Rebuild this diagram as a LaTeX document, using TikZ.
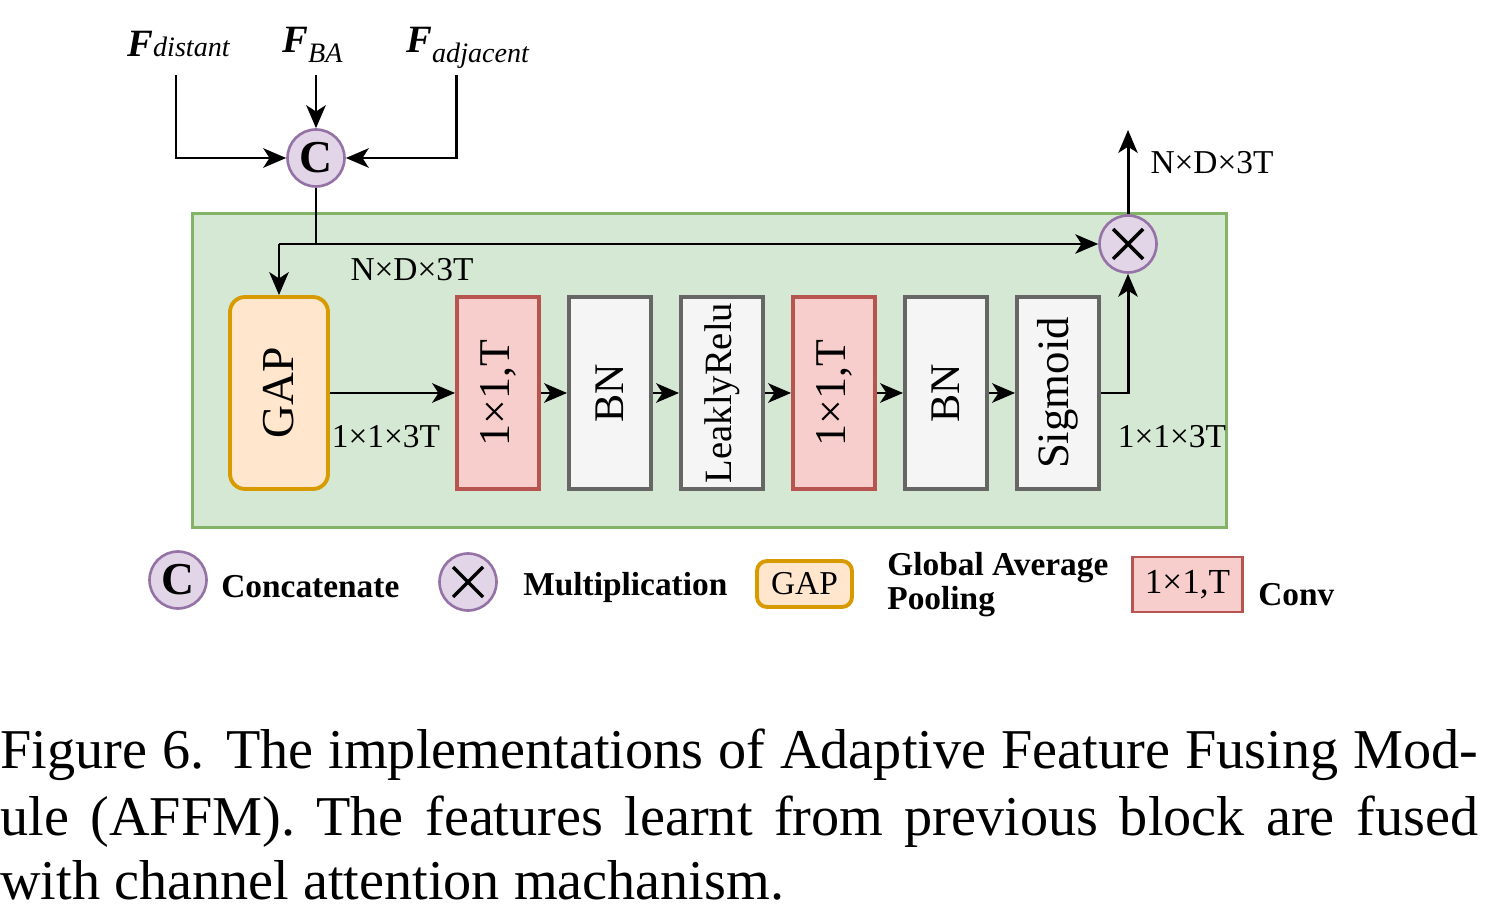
\documentclass[tikz,border=0pt]{standalone}
\usepackage{fontspec}
\setmainfont{Liberation Serif}
\usetikzlibrary{arrows.meta}
\definecolor{opfill}{HTML}{E1D5E7}
\definecolor{opdraw}{HTML}{9673A6}
\definecolor{gfill}{HTML}{D5E8D4}
\definecolor{gdraw}{HTML}{82B366}
\definecolor{ofill}{HTML}{FFE6CC}
\definecolor{odraw}{HTML}{D79B00}
\definecolor{rfill}{HTML}{F8CECC}
\definecolor{rdraw}{HTML}{B85450}
\definecolor{kfill}{HTML}{F5F5F5}
\definecolor{kdraw}{HTML}{666666}
\begin{document}
\begin{tikzpicture}[x=0.02cm,y=-0.02cm,
  fs/.style={font=\fontsize{#1}{#1}\selectfont},
  ln/.style={line width=1.7pt},
  arr/.style={line width=1.7pt,-{Stealth[length=13pt,width=11pt,inset=3.5pt]}},
  blk/.style={draw,line width=2.2pt,minimum width=1.64cm,minimum height=3.84cm,inner sep=0pt},
  convbox/.style={blk,fill=rfill,draw=rdraw},
  graybox/.style={blk,fill=kfill,draw=kdraw},
  gapbox/.style={blk,fill=ofill,draw=odraw,rounded corners=0.3cm,minimum width=1.96cm},
  op/.style={circle,draw=opdraw,fill=opfill,line width=1.5pt,minimum size=1.14cm,inner sep=0pt},
  mul/.style={op,path picture={
     \draw[black,line width=2pt]([shift={(-15,-15)}]path picture bounding box.center)--([shift={(15,15)}]path picture bounding box.center);
     \draw[black,line width=2pt]([shift={(-15,15)}]path picture bounding box.center)--([shift={(15,-15)}]path picture bounding box.center);}},
  lbl/.style={inner sep=0pt,fs=19},
  leg/.style={inner sep=0pt,font=\bfseries\fontsize{19}{22}\selectfont,anchor=base west},
  captxt/.style={inner sep=0pt,anchor=base west,fs=32}
]
\useasboundingbox (0,0) rectangle (1486,911);

% panel
\node[draw=gdraw,fill=gfill,line width=1.5pt,minimum width=20.69cm,minimum height=6.29cm,inner sep=0pt] (panel) at (709.5,370.5) {};

% inputs
\node[anchor=base west,inner sep=0pt] (fd) at (127,57)
  {\fontsize{22}{22}\selectfont\bfseries\itshape F\fontsize{16}{16}\selectfont\mdseries distant};
\node[anchor=base west,inner sep=0pt] (fba) at (282,53)
  {\fontsize{22}{22}\selectfont\bfseries\itshape F\raisebox{-0.2cm}{\fontsize{16}{16}\selectfont\mdseries BA}};
\node[anchor=base west,inner sep=0pt] (fadj) at (406,53)
  {\fontsize{22}{22}\selectfont\bfseries\itshape F\raisebox{-0.2cm}{\fontsize{16}{16}\selectfont\mdseries adjacent}};
\coordinate (d0) at (176,75);
\coordinate (b0) at (316,75);
\coordinate (a0) at (456,75);

\node[op,fs=26] (c) at (316,158) {\bfseries C};
\draw[arr] (d0) |- (c.west);
\draw[arr] (b0) -- (c.north);
\draw[arr] (a0) |- (c.east);

% blocks
\node[gapbox] (gap) at (279,393) {\rotatebox{90}{\fontsize{26}{26}\selectfont GAP}};
\node[convbox] (c1) at (498,393) {\rotatebox{90}{\fontsize{25}{25}\selectfont 1×1,T}};
\node[graybox] (bn1) at (610,393) {\rotatebox{90}{\fontsize{24}{24}\selectfont BN}};
\node[graybox] (lr) at (722,393) {\rotatebox{90}{\fontsize{22}{22}\selectfont LeaklyRelu}};
\node[convbox] (c2) at (834,393) {\rotatebox{90}{\fontsize{25}{25}\selectfont 1×1,T}};
\node[graybox] (bn2) at (946,393) {\rotatebox{90}{\fontsize{24}{24}\selectfont BN}};
\node[graybox] (sig) at (1058,393) {\rotatebox{90}{\fontsize{25.5}{25.5}\selectfont Sigmoid}};

\node[mul] (m) at (1128,244) {};
\coordinate (j) at (316,244);
\coordinate (k) at (279,244);
\coordinate (out) at (1128,130);

\draw[ln] (c.south) -- (j);
\draw[arr] (k) -- (m.west);
\draw[arr] (k) -- (gap.north);
\draw[arr] (gap.east) -- (c1.west);
\draw[arr] (c1.east) -- (bn1.west);
\draw[arr] (bn1.east) -- (lr.west);
\draw[arr] (lr.east) -- (c2.west);
\draw[arr] (c2.east) -- (bn2.west);
\draw[arr] (bn2.east) -- (sig.west);
\draw[arr] (sig.east) -| (m.south);
\draw[arr] (m.north) -- (out);

\node[lbl] (l1) at (412,270) {N×D×3T};
\node[lbl] (l2) at (1212,163) {N×D×3T};
\node[lbl] (l3) at (386,437) {1×1×3T};
\node[lbl] (l4) at (1172,437) {1×1×3T};

% legend
\node[op,fs=26] (lc) at (178,580) {\bfseries C};
\node[leg] (tc) at (221,597) {Concatenate};
\node[mul] (lm) at (468,582) {};
\node[leg] (tm) at (523,595) {Multiplication};
\node[blk,fill=ofill,draw=odraw,rounded corners=0.2cm,minimum width=1.9cm,minimum height=0.92cm] (lg) at (804.5,584) {\fontsize{19}{19}\selectfont GAP};
\node[leg] (tg1) at (887,575) {Global Average};
\node[leg] (tg2) at (887,609) {Pooling};
\node[blk,fill=rfill,draw=rdraw,line width=1.5pt,minimum width=2.2cm,minimum height=1.1cm] (lcv) at (1187.5,584.5) {\fontsize{20}{20}\selectfont 1×1,T};
\node[leg] (tcv) at (1258,605) {Conv};

% caption
\node[captxt] (cap1) at (0,768) {\makebox[29.56cm][s]{Figure 6. The implementations of Adaptive Feature Fusing Mod-}};
\node[captxt] (cap2) at (0,835) {\makebox[29.56cm][s]{ule (AFFM). The features learnt from previous block are fused}};
\node[captxt] (cap3) at (0,899) {with channel attention machanism.};
\end{tikzpicture}
\end{document}
